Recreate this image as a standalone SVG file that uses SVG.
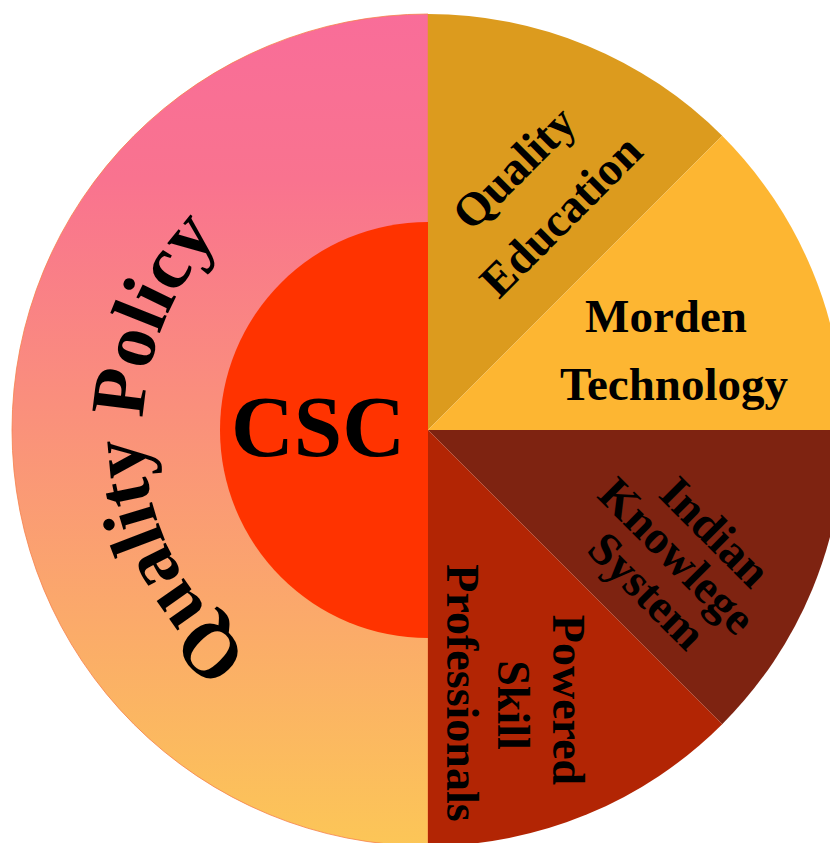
<svg xmlns="http://www.w3.org/2000/svg" width="830" height="843" viewBox="0 0 830 843">
  <style>
    .lbl { font-family: "Liberation Serif", "Times New Roman", serif; font-weight: bold; fill: #000; }
  </style>
  <defs>
    <linearGradient id="policyGrad" gradientUnits="userSpaceOnUse" x1="0" y1="14" x2="0" y2="846">
      <stop offset="0" stop-color="#F96D99"/>
      <stop offset="0.2" stop-color="#F9738F"/>
      <stop offset="1" stop-color="#FCC657"/>
    </linearGradient>
    <path id="qpArc" d="M 428 715 A 285 285 0 0 1 428 145" fill="none"/>
  </defs>
  <rect width="830" height="843" fill="#FFFFFF"/>

  <g id="quality-policy">
    <path d="M 428 14 A 416 416 0 0 0 428 846 Z" fill="url(#policyGrad)" stroke="#F5804A" stroke-width="0.8"/>
    <text class="lbl" font-size="77"><textPath href="#qpArc" startOffset="426" text-anchor="middle">Quality Policy</textPath></text>
  </g>

  <g id="csc">
    <path d="M 428 222 A 208 208 0 0 0 428 638 Z" fill="#FF3300"/>
    <text class="lbl" x="318" y="456" font-size="87" text-anchor="middle">CSC</text>
  </g>

  <g id="quality-education">
    <path d="M 428 430 L 428 14 A 416 416 0 0 1 722.2 135.8 Z" fill="#DC9B1E"/>
    <g class="lbl" font-size="47" text-anchor="middle">
      <text transform="translate(525,179) rotate(-45)">Quality</text>
      <text transform="translate(572,227) rotate(-45)">Education</text>
    </g>
  </g>

  <g id="morden-technology">
    <path d="M 428 430 L 722.2 135.8 A 416 416 0 0 1 844 430 Z" fill="#FDB632"/>
    <g class="lbl" font-size="47" text-anchor="middle">
      <text x="666" y="332">Morden</text>
      <text x="674" y="400">Technology</text>
    </g>
  </g>

  <g id="indian-knowlege-system">
    <path d="M 428 430 L 844 430 A 416 416 0 0 1 722.2 724.2 Z" fill="#7E2311"/>
    <g class="lbl" font-size="47" text-anchor="middle">
      <text transform="translate(704,543) rotate(45)">Indian</text>
      <text transform="translate(666,567) rotate(45)">Knowlege</text>
      <text transform="translate(636,602) rotate(45)">System</text>
    </g>
  </g>

  <g id="powered-skill-professionals">
    <path d="M 428 430 L 722.2 724.2 A 416 416 0 0 1 428 846 Z" fill="#B22504"/>
    <g class="lbl" font-size="46" text-anchor="middle">
      <text transform="translate(553,700) rotate(90)">Powered</text>
      <text transform="translate(498,705) rotate(90)">Skill</text>
      <text transform="translate(447,693) rotate(90)">Professionals</text>
    </g>
  </g>

  <g id="connectors"/>
</svg>
